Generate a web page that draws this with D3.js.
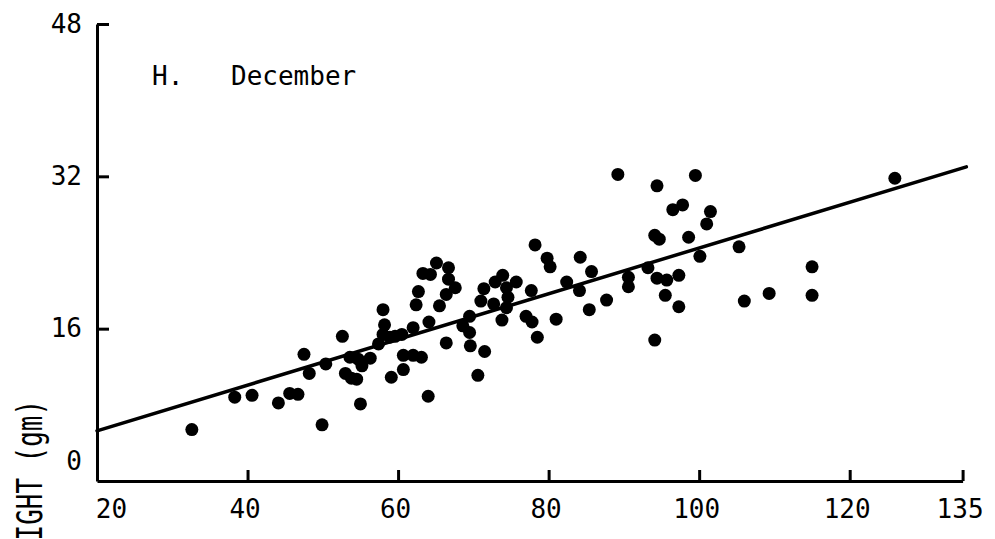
<!DOCTYPE html>
<html>
<head>
<meta charset="utf-8">
<script src="https://cdn.jsdelivr.net/npm/d3@7"></script>
<style>
  html, body { margin: 0; padding: 0; background: #fff; }
  svg { display: block; }
  text { font-family: "DejaVu Sans Mono", monospace; fill: #000; }
</style>
</head>
<body>
<svg id="chart" width="995" height="539"></svg>
<script>
// December fruit weight (gm) against size, with fitted regression line
const sizeValues = [
  32.6, 38.3, 40.6, 44.1, 45.6, 46.7, 47.5, 48.2, 50.4, 49.9,
  52.6, 55.0, 53.0, 53.8, 54.5, 53.6, 54.7, 55.2, 56.3, 58.0,
  58.2, 58.0, 58.9, 57.4, 59.1, 59.6, 60.5, 60.7, 62.0, 63.1,
  60.7, 64.0, 62.0, 64.1, 62.4, 62.7, 63.3, 64.3, 65.1, 66.7,
  66.7, 67.6, 66.4, 65.5, 69.5, 68.6, 69.5, 66.4, 69.6, 71.5,
  70.6, 71.0, 71.4, 72.9, 73.9, 74.4, 74.6, 72.7, 74.4, 73.8,
  75.7, 77.7, 77.0, 77.8, 78.5, 78.2, 79.8, 80.2, 81.0, 82.4,
  84.2, 84.1, 85.7, 85.4, 87.7, 89.2, 90.6, 90.6, 93.2, 94.1,
  94.7, 94.4, 94.4, 95.7, 95.5, 94.1, 96.5, 97.8, 97.3, 97.3,
  98.6, 99.5, 100.1, 101.0, 101.5, 105.3, 106.0, 109.3, 115.0, 115.0,
  126.0
];
const weightValues = [
  5.4, 8.8, 9.0, 8.2, 9.2, 9.1, 13.3, 11.3, 12.3, 5.9,
  15.2, 8.1, 11.3, 10.8, 10.7, 13.0, 12.8, 12.1, 12.9, 18.0,
  16.4, 15.4, 15.1, 14.4, 10.9, 15.2, 15.4, 13.2, 13.2, 13.0,
  11.7, 8.9, 16.1, 16.7, 18.5, 19.9, 21.8, 21.7, 22.9, 22.4,
  21.2, 20.3, 19.6, 18.4, 17.3, 16.3, 15.6, 14.5, 14.2, 13.6,
  11.1, 18.9, 20.2, 20.9, 21.6, 20.3, 19.3, 18.6, 18.2, 16.9,
  20.9, 20.0, 17.3, 16.7, 15.1, 24.8, 23.4, 22.5, 17.0, 20.9,
  23.5, 20.0, 22.0, 18.0, 19.0, 32.2, 21.4, 20.4, 22.4, 25.8,
  25.4, 31.0, 21.3, 21.1, 19.5, 14.8, 28.5, 29.0, 21.6, 18.3,
  25.6, 32.1, 23.6, 27.0, 28.3, 24.6, 18.9, 19.7, 22.5, 19.5,
  31.8
];

// Fitted line: weight = intercept + slope * size
const regIntercept = 0.47;
const regSlope = 0.24;
const regSizeRange = [20, 135.5];

const xTicks = [20, 40, 60, 80, 100, 120, 135];
const yTicks = [0, 16, 32, 48];
const panelLetter = "H.";
const panelMonth = "December";
const yLabel = "WEIGHT (gm)";

const svg = d3.select("#chart");

const x = d3.scaleLinear().domain([20, 135]).range([97, 962.6]);
const y = d3.scaleLinear().domain([0, 48]).range([481, 24]);

// Axes with inward ticks
const xAxis = d3.axisBottom(x)
  .tickValues(xTicks)
  .tickFormat(d3.format("d"))
  .tickSizeInner(-11)
  .tickSizeOuter(0)
  .tickPadding(19);

const yAxis = d3.axisLeft(y)
  .tickValues(yTicks)
  .tickFormat(d3.format("d"))
  .tickSizeInner(-12)
  .tickSizeOuter(0)
  .tickPadding(15);

const gx = svg.append("g")
  .attr("transform", `translate(0,${y(0)})`)
  .call(xAxis);

const gy = svg.append("g")
  .attr("transform", `translate(${x(20)},0)`)
  .call(yAxis);

[gx, gy].forEach(g => {
  g.select(".domain").attr("stroke", "#000").attr("stroke-width", 3);
  g.selectAll(".tick line").attr("stroke", "#000").attr("stroke-width", 3);
  g.selectAll(".tick text")
    .attr("font-family", "\"DejaVu Sans Mono\", monospace")
    .attr("font-size", 26)
    .attr("fill", "#000");
});

// The 0 tick on the y axis coincides with the x axis
gy.selectAll(".tick").filter(d => d === 0).select("line").remove();
gy.selectAll(".tick").filter(d => d === 0).select("text").attr("dy", "-0.45em");
gx.selectAll(".tick").filter(d => d === 20).select("text").attr("dx", 14);
gx.selectAll(".tick").filter(d => d !== 20).select("text").attr("dx", -3);

// Regression line
const line = d3.line()
  .x(d => x(d))
  .y(d => y(regIntercept + regSlope * d));

svg.append("path")
  .datum(regSizeRange)
  .attr("d", line)
  .attr("fill", "none")
  .attr("stroke", "#000")
  .attr("stroke-width", 3.5)
  .attr("stroke-linecap", "round");

// Observations
svg.append("g")
  .selectAll("circle")
  .data(sizeValues.map((s, i) => ({ s, w: weightValues[i] })))
  .join("circle")
  .attr("cx", d => x(d.s))
  .attr("cy", d => y(d.w))
  .attr("r", 6.5)
  .attr("fill", "#000");

// Panel title
svg.append("text")
  .attr("x", 152)
  .attr("y", 85)
  .attr("font-size", 26)
  .text(panelLetter);

svg.append("text")
  .attr("x", 231)
  .attr("y", 85)
  .attr("font-size", 26)
  .text(panelMonth);

// Y axis title (runs off the bottom edge of the page)
svg.append("text")
  .attr("transform", "translate(42,400) rotate(-90) scale(0.72,1)")
  .attr("text-anchor", "end")
  .attr("font-size", 36)
  .text(yLabel);
</script>
</body>
</html>
